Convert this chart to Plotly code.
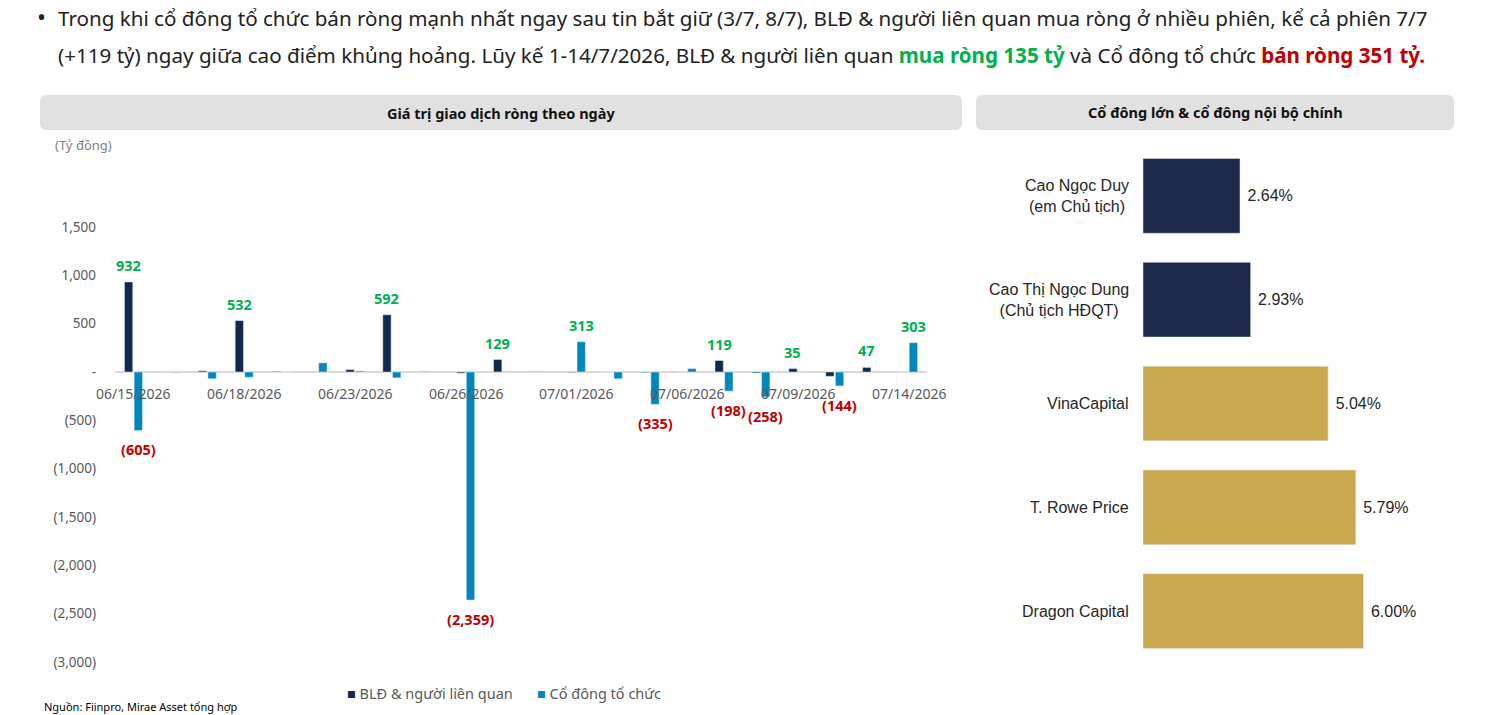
import plotly.graph_objects as go

W, H = 1492, 715

# ---------------- data ----------------
dates = ["06/15/2026", "06/16/2026", "06/17/2026", "06/18/2026", "06/19/2026",
         "06/22/2026", "06/23/2026", "06/24/2026", "06/25/2026", "06/26/2026",
         "06/29/2026", "06/30/2026", "07/01/2026", "07/02/2026", "07/03/2026",
         "07/06/2026", "07/07/2026", "07/08/2026", "07/09/2026", "07/10/2026",
         "07/13/2026", "07/14/2026"]
blđ_values = [932, 0, 12, 532, 6, 2, 25, 592, 4, -12, 129, 3, -6, 0, -6, 0, 119, -10, 35, -45, 47, 0]
inst_values = [-605, -6, -70, -55, 0, 95, 10, -60, 3, -2359, 5, 3, 313, -70, -335, 35, -198, -258, 0, -144, 3, 303]
blđ_labeled = [0, 3, 7, 10, 16, 18, 20]
inst_labeled = [0, 9, 12, 14, 16, 17, 19, 21]
date_ticks = ["06/15/2026", "06/18/2026", "06/23/2026", "06/26/2026",
              "07/01/2026", "07/06/2026", "07/09/2026", "07/14/2026"]
y_ticks = [1500, 1000, 500, 0, -500, -1000, -1500, -2000, -2500, -3000]
series_names = ["BLĐ & người liên quan", "Cổ đông tổ chức"]

holders = ["Cao Ngọc Duy<br>(em Chủ tịch)", "Cao Thị Ngọc Dung<br>(Chủ tịch HĐQT)",
           "VinaCapital", "T. Rowe Price", "Dragon Capital"]
holder_pct = [2.64, 2.93, 5.04, 5.79, 6.00]
holder_insider = [True, True, False, False, False]

# ---------------- styles ----------------
NAVY = "#0F2A4D"
CYAN = "#0088BE"
GREEN = "#00B050"
RED = "#C00000"
GRAY = "#595959"
R_NAVY = "#1D2A4A"
R_GOLD = "#C9A850"
FONT = "Noto Sans"
BARGAP = 0.475
BARGROUPGAP = 0.14


def fmt(v):
    s = f"{abs(v):,.0f}"
    return f"({s})" if v < 0 else s


def px(x):
    return x / W


def py(y):
    return 1 - y / H


fig = go.Figure()

fig.add_trace(go.Bar(
    x=dates, y=blđ_values, name=series_names[0], marker_color=NAVY,
    showlegend=False, xaxis="x", yaxis="y",
))
fig.add_trace(go.Bar(
    x=dates, y=inst_values, name=series_names[1], marker_color=CYAN,
    showlegend=False, xaxis="x", yaxis="y",
))

fig.add_trace(go.Bar(
    y=holders, x=holder_pct, orientation="h", showlegend=False,
    marker_color=[R_NAVY if ins else R_GOLD for ins in holder_insider],
    text=[f"{v:.2f}%" for v in holder_pct], texttemplate=" %{text}",
    textposition="outside", textangle=0, constraintext="none", cliponaxis=False,
    textfont=dict(family="Liberation Sans", size=16, color="#262626"),
    xaxis="x2", yaxis="y2", width=0.72,
))

# left axes: pixels -> domain
L_X0, L_X1 = 115, 927
L_TOP, L_BOT = 160, 675
ZERO_Y = 372
PPU = (662 - 227) / 4500.0
y_hi = (ZERO_Y - L_TOP) / PPU
y_lo = -(L_BOT - ZERO_Y) / PPU

# right axes
R_X0, R_X1 = 1143, 1454
R_TOP, R_BOT = 144, 663
R_PPU = (1240 - 1143) / 2.64

fig.update_layout(
    width=W, height=H, margin=dict(l=0, r=0, t=0, b=0),
    paper_bgcolor="white", plot_bgcolor="white",
    barmode="group", bargap=BARGAP, bargroupgap=BARGROUPGAP,
    font=dict(family=FONT, color=GRAY),
    xaxis=dict(domain=[px(L_X0), px(L_X1)], anchor="y", type="category",
               range=[-0.5, len(dates) - 0.5], autorange=False,
               showticklabels=False, showgrid=False, showline=False, ticks=""),
    yaxis=dict(domain=[py(L_BOT), py(L_TOP)], anchor="x", range=[y_lo, y_hi],
               tickvals=y_ticks,
               ticktext=["-" if v == 0 else fmt(v) for v in y_ticks],
               tickfont=dict(family=FONT, size=13.5, color=GRAY),
               showgrid=False, zeroline=True, zerolinecolor="#D9D9D9", zerolinewidth=1.5,
               showline=False, ticks="", ticklabelstandoff=18),
    xaxis2=dict(domain=[px(R_X0), px(R_X1)], anchor="y2",
                range=[0, (R_X1 - R_X0) / R_PPU], autorange=False,
                visible=False),
    yaxis2=dict(domain=[py(R_BOT), py(R_TOP)], anchor="x2", autorange="reversed",
                showticklabels=False, showgrid=False, showline=False, ticks="",
                type="category"),
    showlegend=False,
)


def rrect(x0, y0, x1, y1, r=7):
    rx, ry = r / W, r / H
    X0, X1 = px(x0), px(x1)
    Y0, Y1 = py(y0), py(y1)
    return (f"M {X0+rx},{Y0} L {X1-rx},{Y0} Q {X1},{Y0} {X1},{Y0-ry} "
            f"L {X1},{Y1+ry} Q {X1},{Y1} {X1-rx},{Y1} L {X0+rx},{Y1} "
            f"Q {X0},{Y1} {X0},{Y1+ry} L {X0},{Y0-ry} Q {X0},{Y0} {X0+rx},{Y0} Z")


shapes = [
    dict(type="path", xref="paper", yref="paper", path=rrect(40, 95, 962, 130),
         fillcolor="#E1E1E1", line=dict(width=0), layer="below"),
    dict(type="path", xref="paper", yref="paper", path=rrect(976, 95, 1454, 130),
         fillcolor="#E1E1E1", line=dict(width=0), layer="below"),
]
fig.update_layout(shapes=shapes)

ann = []
TXT = "#222222"
ann.append(dict(x=px(35), y=py(16), xref="paper", yref="paper", text="•",
                showarrow=False, xanchor="left", yanchor="middle",
                font=dict(family=FONT, size=24, color=TXT)))
ann.append(dict(x=px(56), y=py(18), xref="paper", yref="paper",
                text="Trong khi cổ đông tổ chức bán ròng mạnh nhất ngay sau tin bắt giữ (3/7, 8/7), "
                     "BLĐ & người liên quan mua ròng ở nhiều phiên, kể cả phiên 7/7",
                showarrow=False, xanchor="left", yanchor="middle",
                font=dict(family=FONT, size=20.6, color=TXT)))
ann.append(dict(x=px(56), y=py(55), xref="paper", yref="paper",
                text="(+119 tỷ) ngay giữa cao điểm khủng hoảng. Lũy kế 1-14/7/2026, BLĐ & người liên quan "
                     f"<b><span style='color:{GREEN}'>mua ròng 135 tỷ</span></b> và Cổ đông tổ chức "
                     f"<b><span style='color:{RED}'>bán ròng 351 tỷ.</span></b>",
                showarrow=False, xanchor="left", yanchor="middle",
                font=dict(family=FONT, size=20.6, color=TXT)))
ann.append(dict(x=px(501), y=py(113), xref="paper", yref="paper",
                text="<b>Giá trị giao dịch ròng theo ngày</b>", showarrow=False,
                xanchor="center", yanchor="middle",
                font=dict(family=FONT, size=14.5, color="#111111")))
ann.append(dict(x=px(1215), y=py(112), xref="paper", yref="paper",
                text="<b>Cổ đông lớn & cổ đông nội bộ chính</b>", showarrow=False,
                xanchor="center", yanchor="middle",
                font=dict(family=FONT, size=14.5, color="#111111")))
ann.append(dict(x=px(53), y=py(145), xref="paper", yref="paper", text="(Tỷ đồng)",
                showarrow=False, xanchor="left", yanchor="middle",
                font=dict(family=FONT, size=13, color="#7F7F7F")))
for d in date_ticks:
    ann.append(dict(x=d, y=0, xref="x", yref="y", text=d, showarrow=False,
                    xanchor="center", yanchor="middle", yshift=-21,
                    font=dict(family=FONT, size=14, color=GRAY)))

# bar value labels (placed on each bar's own slot within the group)
slot = (1 - BARGAP) / 2
for vals, idx, side in ((blđ_values, blđ_labeled, -1), (inst_values, inst_labeled, 1)):
    for i in idx:
        v = vals[i]
        ann.append(dict(x=i + side * slot / 2, y=v, xref="x", yref="y", text=f"<b>{fmt(v)}</b>",
                        showarrow=False, xanchor="center",
                        yanchor="bottom" if v >= 0 else "top",
                        yshift=5 if v >= 0 else -7,
                        font=dict(family=FONT, size=14.5, color=GREEN if v >= 0 else RED)))

for h in holders:
    ann.append(dict(x=0, y=h, xref="x2", yref="y2", text=h, showarrow=False,
                    xanchor="right", yanchor="middle", xshift=-12, align="center",
                    font=dict(family="Liberation Sans", size=16, color="#262626")))
ann.append(dict(x=px(345), y=py(693), xref="paper", yref="paper",
                text=f"<span style='color:{NAVY}'>■</span> {series_names[0]}",
                showarrow=False, xanchor="left", yanchor="middle",
                font=dict(family=FONT, size=14.5, color=GRAY)))
ann.append(dict(x=px(535), y=py(693), xref="paper", yref="paper",
                text=f"<span style='color:{CYAN}'>■</span> {series_names[1]}",
                showarrow=False, xanchor="left", yanchor="middle",
                font=dict(family=FONT, size=14.5, color=GRAY)))
ann.append(dict(x=px(42), y=py(706), xref="paper", yref="paper",
                text="Nguồn: Fiinpro, Mirae Asset tổng hợp", showarrow=False,
                xanchor="left", yanchor="middle",
                font=dict(family=FONT, size=11, color="#000000")))
fig.update_layout(annotations=ann)

fig.write_html("out.html")
